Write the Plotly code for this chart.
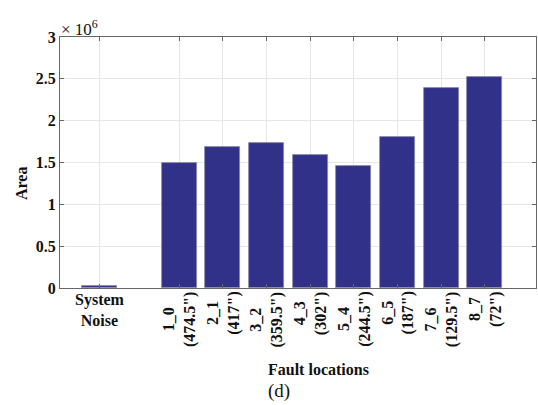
import plotly.graph_objects as go

# Bar data (Area values, in units of 1e6 on the axis)
noise_label = "System<br>Noise"
noise_area = [0.025e6]

fault_labels = ["1_0", "2_1", "3_2", "4_3", "5_4", "6_5", "7_6", "8_7"]
fault_dist = ['(474.5")', '(417")', '(359.5")', '(302")', '(244.5")', '(187")', '(129.5")', '(72")']
fault_area = [1.49e6, 1.69e6, 1.73e6, 1.59e6, 1.455e6, 1.81e6, 2.39e6, 2.52e6]

# Category positions along the x axis
noise_pos = [0.0]
fault_pos = [1.82 + k for k in range(len(fault_labels))]

ytick_vals = [0, 0.5e6, 1e6, 1.5e6, 2e6, 2.5e6, 3e6]
ytick_text = ["0", "0.5", "1", "1.5", "2", "2.5", "3"]

W, H = 538, 405
L, R, T, B = 60, 2, 37, 117
PW, PH = W - L - R, H - T - B

def px_x(px):
    return (px - L) / PW

def px_y(py):
    return (H - B - py) / PH

SERIF = "Liberation Serif"
INK = "#111111"
BAR = "#32318a"

fig = go.Figure()
fig.add_trace(go.Bar(
    x=noise_pos + fault_pos,
    y=noise_area + fault_area,
    width=0.8,
    marker=dict(color=BAR, line=dict(color="#8a8aa8", width=0.8)),
    showlegend=False,
))

annotations = []
annotations.append(dict(
    x=noise_pos[0], xref="x", y=px_y(289), yref="paper",
    text=noise_label, showarrow=False, xanchor="center", yanchor="top",
    align="center",
    font=dict(family=SERIF, size=16, color=INK, weight="bold"),
))
for pos, lab, dist in zip(fault_pos, fault_labels, fault_dist):
    annotations.append(dict(
        x=pos, xref="x", y=px_y(289), yref="paper",
        text=f"{lab}<br>{dist}", showarrow=False, textangle=-90,
        xanchor="center", yanchor="top", align="center",
        font=dict(family=SERIF, size=16, color=INK, weight="bold"),
    ))

annotations += [
    dict(x=px_x(59), y=px_y(41), xref="paper", yref="paper",
         text="× 10<sup>6</sup>", showarrow=False, xanchor="left", yanchor="bottom",
         font=dict(family=SERIF, size=17, color=INK)),
    dict(x=px_x(22), y=px_y(184), xref="paper", yref="paper",
         text="Area", showarrow=False, textangle=-90, xanchor="center", yanchor="middle",
         font=dict(family=SERIF, size=16, color=INK, weight="bold")),
    dict(x=px_x(318), y=px_y(369), xref="paper", yref="paper",
         text="Fault locations", showarrow=False, xanchor="center", yanchor="middle",
         font=dict(family=SERIF, size=16, color=INK, weight="bold")),
    dict(x=px_x(279), y=px_y(391), xref="paper", yref="paper",
         text="(d)", showarrow=False, xanchor="center", yanchor="middle",
         font=dict(family=SERIF, size=19, color=INK)),
]

fig.update_layout(
    width=W, height=H,
    margin=dict(l=L, r=R, t=T, b=B, pad=0),
    paper_bgcolor="white", plot_bgcolor="white",
    bargap=0,
    annotations=annotations,
    xaxis=dict(
        range=[-0.906, 9.99],
        tickvals=noise_pos + fault_pos,
        showticklabels=False,
        ticks="inside", ticklen=4, tickcolor="#666",
        showline=True, linecolor="#666", linewidth=1, mirror="ticks",
        showgrid=True, gridcolor="#e6e6e6", gridwidth=1,
        zeroline=False,
    ),
    yaxis=dict(
        range=[0, 3e6],
        tickvals=ytick_vals, ticktext=ytick_text,
        tickfont=dict(family=SERIF, size=16, color=INK, weight="bold"),
        ticks="inside", ticklen=4, tickcolor="#666",
        showline=True, linecolor="#666", linewidth=1, mirror="ticks",
        showgrid=True, gridcolor="#e6e6e6", gridwidth=1,
        zeroline=False,
    ),
)

fig.write_html("out.html")
